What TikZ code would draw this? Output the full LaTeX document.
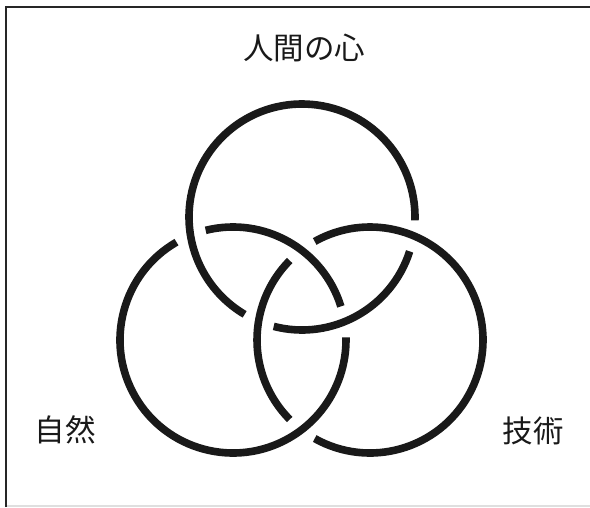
\documentclass[tikz,border=0pt]{standalone}
\usepackage{fontspec}
\newfontfamily\jpfont{Noto Sans CJK JP}
\begin{document}
\begin{tikzpicture}[x=1pt,y=1pt,
  ring/.style={line width=7.6pt, line cap=butt, draw=black!90},
  label/.style={font=\jpfont\fontsize{30.5}{30.5}\selectfont, inner sep=0pt, text=black!90},
  frame/.style={line width=2.5pt, draw=black!85}]
\useasboundingbox (0,0) rectangle (590,507);
% frame
\draw[frame] (6,0) -- (6,500) -- (590,500);
\draw[gray!25, line width=1.5pt] (7,1.2) -- (590,1.2);
% centers
\def\rr{113}
\def\g{8}
\coordinate (T) at (302,290);
\coordinate (L) at (233,167);
\coordinate (R) at (370,167);
% top circle (under right circle)
\draw[ring] (T) ++(-9.7+\g:\rr) arc[start angle=-9.7+\g, end angle=247.5-\g, radius=\rr];
\draw[ring] (T) ++(247.5+\g:\rr) arc[start angle=247.5+\g, end angle=350.3-\g, radius=\rr];
% left circle (under top circle)
\draw[ring] (L) ++(9.3+\g:\rr) arc[start angle=9.3+\g, end angle=112-\g, radius=\rr];
\draw[ring] (L) ++(112+\g:\rr) arc[start angle=112+\g, end angle=369.3-\g, radius=\rr];
% right circle (under left circle)
\draw[ring] (R) ++(127.3+\g:\rr) arc[start angle=127.3+\g, end angle=232.7-\g, radius=\rr];
\draw[ring] (R) ++(232.7+\g:\rr) arc[start angle=232.7+\g, end angle=487.3-\g, radius=\rr];
% labels
\node[label] (kokoro) at (304,459) {人間の心};
\node[label] (shizen) at (65,77) {自然};
\node[label] (gijutsu) at (533,76) {技術};
\end{tikzpicture}
\end{document}
